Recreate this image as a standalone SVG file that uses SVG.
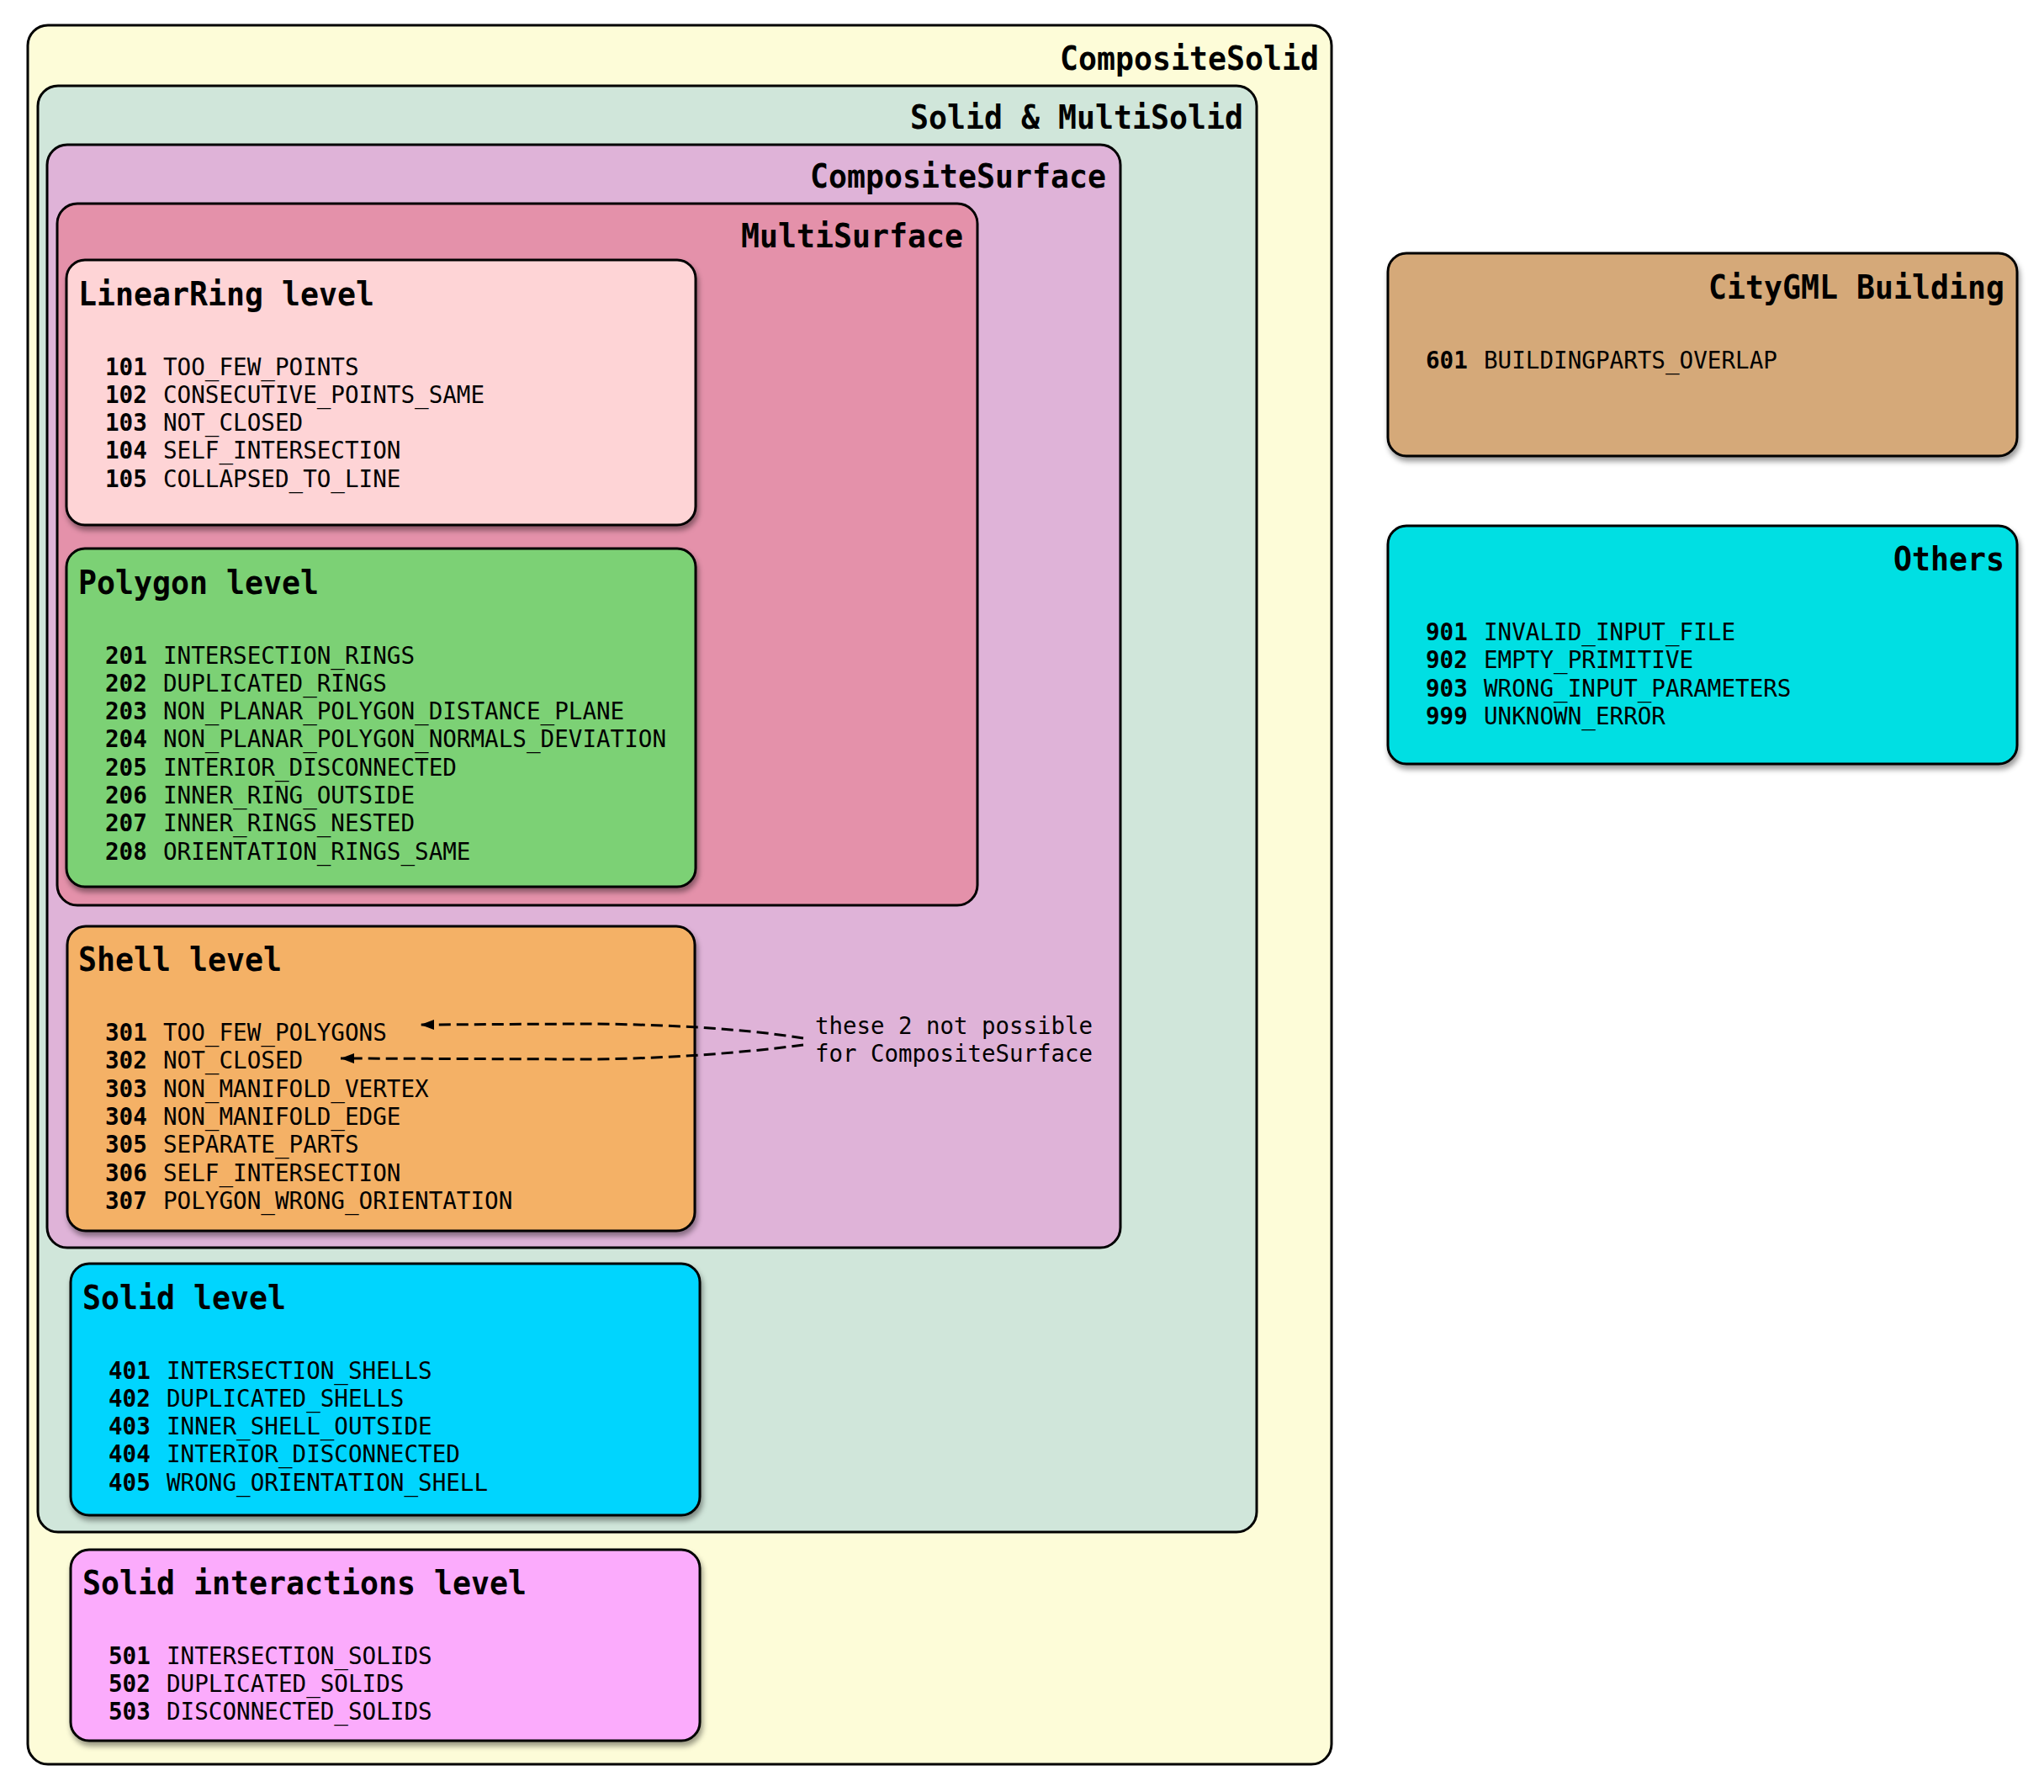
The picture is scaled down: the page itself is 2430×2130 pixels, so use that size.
<svg xmlns="http://www.w3.org/2000/svg" width="2430" height="2130" viewBox="0 0 2430 2130">
  <defs>
    <filter id="shadow" x="-5%" y="-5%" width="112%" height="115%">
      <feDropShadow dx="2" dy="5" stdDeviation="3" flood-color="#000" flood-opacity="0.4"/>
    </filter>
    <marker id="arrow" markerUnits="userSpaceOnUse" markerWidth="20" markerHeight="14" refX="16" refY="6" orient="auto">
      <path d="M0,0 L16,6 L0,12 Z" fill="#000"/>
    </marker>
  </defs>
  <style>
    .box { stroke: #000; stroke-width: 3; }
    .leaf { filter: url(#shadow); }
    .ttl { font-family: "DejaVu Sans Mono", "Liberation Mono", monospace; font-weight: bold; font-size: 39px; fill: #000; }
    .end { text-anchor: end; }
    .num { font-family: "DejaVu Sans Mono", "Liberation Mono", monospace; font-weight: bold; font-size: 27.6px; fill: #000; }
    .nm { font-family: "DejaVu Sans Mono", "Liberation Mono", monospace; font-size: 27.6px; fill: #000; }
    .edge { fill: none; stroke: #000; stroke-width: 3; stroke-dasharray: 14 7; }
  </style>

  <rect width="2430" height="2130" fill="#fff"/>

  <!-- nested geometry clusters -->
  <g id="composite-solid">
    <rect class="box" x="33" y="30" width="1550" height="2067" rx="24" fill="#fdfcd8"/>
    <text class="ttl end" x="1568" y="83" textLength="308" lengthAdjust="spacingAndGlyphs">CompositeSolid</text>
  </g>
  <g id="solid-multisolid">
    <rect class="box" x="45" y="102" width="1449" height="1719" rx="24" fill="#d0e6da"/>
    <text class="ttl end" x="1478" y="153" textLength="396" lengthAdjust="spacingAndGlyphs">Solid &amp; MultiSolid</text>
  </g>
  <g id="composite-surface">
    <rect class="box" x="56" y="172" width="1276" height="1311" rx="24" fill="#dfb3d8"/>
    <text class="ttl end" x="1315" y="223" textLength="352" lengthAdjust="spacingAndGlyphs">CompositeSurface</text>
  </g>
  <g id="multi-surface">
    <rect class="box" x="68" y="242" width="1094" height="834" rx="24" fill="#e491aa"/>
    <text class="ttl end" x="1145" y="294" textLength="264" lengthAdjust="spacingAndGlyphs">MultiSurface</text>
  </g>

  <!-- error-code nodes -->
  <g id="linearring-level">
    <rect class="box leaf" x="79" y="309" width="748" height="315" rx="22" fill="#fed4d6"/>
    <text class="ttl" x="93" y="362.5" textLength="352" lengthAdjust="spacingAndGlyphs">LinearRing level</text>
    <text class="num" x="125" y="445.5">101</text><text class="nm" x="194" y="445.5">TOO_FEW_POINTS</text>
    <text class="num" x="125" y="478.8">102</text><text class="nm" x="194" y="478.8">CONSECUTIVE_POINTS_SAME</text>
    <text class="num" x="125" y="512.1">103</text><text class="nm" x="194" y="512.1">NOT_CLOSED</text>
    <text class="num" x="125" y="545.4">104</text><text class="nm" x="194" y="545.4">SELF_INTERSECTION</text>
    <text class="num" x="125" y="578.7">105</text><text class="nm" x="194" y="578.7">COLLAPSED_TO_LINE</text>
  </g>

  <g id="polygon-level">
    <rect class="box leaf" x="79" y="652" width="748" height="402" rx="22" fill="#7bd174"/>
    <text class="ttl" x="93" y="705.5" textLength="286" lengthAdjust="spacingAndGlyphs">Polygon level</text>
    <text class="num" x="125" y="788.5">201</text><text class="nm" x="194" y="788.5">INTERSECTION_RINGS</text>
    <text class="num" x="125" y="821.8">202</text><text class="nm" x="194" y="821.8">DUPLICATED_RINGS</text>
    <text class="num" x="125" y="855.1">203</text><text class="nm" x="194" y="855.1">NON_PLANAR_POLYGON_DISTANCE_PLANE</text>
    <text class="num" x="125" y="888.4">204</text><text class="nm" x="194" y="888.4">NON_PLANAR_POLYGON_NORMALS_DEVIATION</text>
    <text class="num" x="125" y="921.7">205</text><text class="nm" x="194" y="921.7">INTERIOR_DISCONNECTED</text>
    <text class="num" x="125" y="955">206</text><text class="nm" x="194" y="955">INNER_RING_OUTSIDE</text>
    <text class="num" x="125" y="988.3">207</text><text class="nm" x="194" y="988.3">INNER_RINGS_NESTED</text>
    <text class="num" x="125" y="1021.6">208</text><text class="nm" x="194" y="1021.6">ORIENTATION_RINGS_SAME</text>
  </g>

  <g id="shell-level">
    <rect class="box leaf" x="80" y="1101" width="746" height="362" rx="22" fill="#f4b166"/>
    <text class="ttl" x="93" y="1154" textLength="242" lengthAdjust="spacingAndGlyphs">Shell level</text>
    <text class="num" x="125" y="1237">301</text><text class="nm" x="194" y="1237">TOO_FEW_POLYGONS</text>
    <text class="num" x="125" y="1270.3">302</text><text class="nm" x="194" y="1270.3">NOT_CLOSED</text>
    <text class="num" x="125" y="1303.6">303</text><text class="nm" x="194" y="1303.6">NON_MANIFOLD_VERTEX</text>
    <text class="num" x="125" y="1336.9">304</text><text class="nm" x="194" y="1336.9">NON_MANIFOLD_EDGE</text>
    <text class="num" x="125" y="1370.2">305</text><text class="nm" x="194" y="1370.2">SEPARATE_PARTS</text>
    <text class="num" x="125" y="1403.5">306</text><text class="nm" x="194" y="1403.5">SELF_INTERSECTION</text>
    <text class="num" x="125" y="1436.8">307</text><text class="nm" x="194" y="1436.8">POLYGON_WRONG_ORIENTATION</text>
  </g>

  <g id="solid-level">
    <rect class="box leaf" x="84" y="1502" width="748" height="299" rx="22" fill="#00d5fe"/>
    <text class="ttl" x="98" y="1555.5" textLength="242" lengthAdjust="spacingAndGlyphs">Solid level</text>
    <text class="num" x="129" y="1638.5">401</text><text class="nm" x="198" y="1638.5">INTERSECTION_SHELLS</text>
    <text class="num" x="129" y="1671.8">402</text><text class="nm" x="198" y="1671.8">DUPLICATED_SHELLS</text>
    <text class="num" x="129" y="1705.1">403</text><text class="nm" x="198" y="1705.1">INNER_SHELL_OUTSIDE</text>
    <text class="num" x="129" y="1738.4">404</text><text class="nm" x="198" y="1738.4">INTERIOR_DISCONNECTED</text>
    <text class="num" x="129" y="1771.7">405</text><text class="nm" x="198" y="1771.7">WRONG_ORIENTATION_SHELL</text>
  </g>

  <g id="solid-interactions-level">
    <rect class="box leaf" x="84" y="1842" width="748" height="227" rx="22" fill="#fbabfc"/>
    <text class="ttl" x="98" y="1894.5" textLength="528" lengthAdjust="spacingAndGlyphs">Solid interactions level</text>
    <text class="num" x="129" y="1977.5">501</text><text class="nm" x="198" y="1977.5">INTERSECTION_SOLIDS</text>
    <text class="num" x="129" y="2010.8">502</text><text class="nm" x="198" y="2010.8">DUPLICATED_SOLIDS</text>
    <text class="num" x="129" y="2044.1">503</text><text class="nm" x="198" y="2044.1">DISCONNECTED_SOLIDS</text>
  </g>

  <g id="citygml-building">
    <rect class="box leaf" x="1650" y="301" width="748" height="241" rx="22" fill="#d5a979"/>
    <text class="ttl end" x="2383" y="354.5" textLength="352" lengthAdjust="spacingAndGlyphs">CityGML Building</text>
    <text class="num" x="1695" y="437.5">601</text><text class="nm" x="1764" y="437.5">BUILDINGPARTS_OVERLAP</text>
  </g>

  <g id="others">
    <rect class="box leaf" x="1650" y="625" width="748" height="283" rx="22" fill="#00dfe3"/>
    <text class="ttl end" x="2383" y="677.5" textLength="132" lengthAdjust="spacingAndGlyphs">Others</text>
    <text class="num" x="1695" y="761">901</text><text class="nm" x="1764" y="761">INVALID_INPUT_FILE</text>
    <text class="num" x="1695" y="794.3">902</text><text class="nm" x="1764" y="794.3">EMPTY_PRIMITIVE</text>
    <text class="num" x="1695" y="827.6">903</text><text class="nm" x="1764" y="827.6">WRONG_INPUT_PARAMETERS</text>
    <text class="num" x="1695" y="860.9">999</text><text class="nm" x="1764" y="860.9">UNKNOWN_ERROR</text>
  </g>

  <!-- note node -->
  <g id="note-composite-surface">
    <text class="nm" x="969" y="1229" textLength="330" lengthAdjust="spacingAndGlyphs">these 2 not possible</text>
    <text class="nm" x="969" y="1262" textLength="330" lengthAdjust="spacingAndGlyphs">for CompositeSurface</text>
  </g>

  <!-- dashed connectors from the note to the affected codes -->
  <g id="connectors">
    <path class="edge" d="M955,1234 C880,1222 780,1217 690,1217 L500,1218" marker-end="url(#arrow)"/>
    <path class="edge" d="M955,1242 C880,1252 780,1259 690,1259 L405,1258" marker-end="url(#arrow)"/>
  </g>
</svg>
